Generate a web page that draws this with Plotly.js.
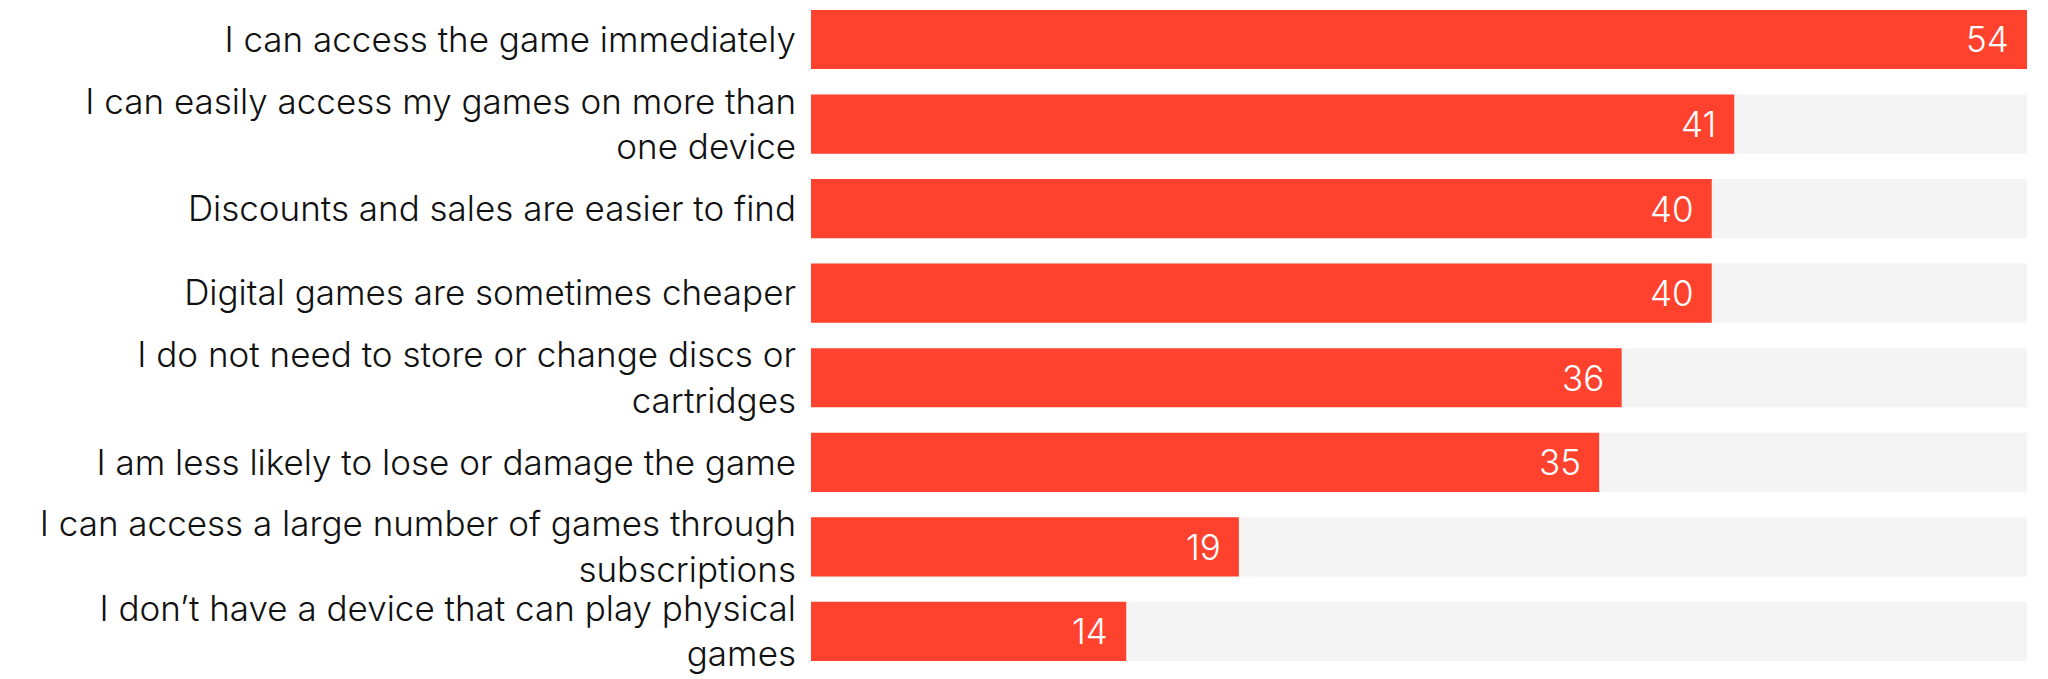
<!DOCTYPE html>
<html>
<head>
<meta charset="utf-8">
<script src="https://cdn.plot.ly/plotly-3.0.1.min.js"></script>
<style>
  html, body { margin: 0; padding: 0; background: #ffffff; }
  #chart { width: 2048px; height: 679px; }
</style>
</head>
<body>
<div id="chart"></div>
<script>
// Reasons for buying games digitally (%)
var categories = [
  'I can access the game immediately',
  'I can easily access my games on more than<br>one device',
  'Discounts and sales are easier to find',
  'Digital games are sometimes cheaper',
  'I do not need to store or change discs or<br>cartridges',
  'I am less likely to lose or damage the game',
  'I can access a large number of games through<br>subscriptions',
  'I don\u2019t have a device that can play physical<br>games'
];
var values = [54, 41, 40, 40, 36, 35, 19, 14];

var RED = '#ff422d';
var TRACK = '#f4f4f4';
var FONT = 'Inter, Open Sans, Arial, sans-serif';

var maxValue = Math.max.apply(null, values);
var track = values.map(function () { return maxValue; });

var trackTrace = {
  type: 'bar',
  orientation: 'h',
  y: categories,
  x: track,
  width: 0.7,
  marker: { color: TRACK },
  hoverinfo: 'skip',
  showlegend: false
};

var valueTrace = {
  type: 'bar',
  orientation: 'h',
  y: categories,
  x: values,
  width: 0.7,
  marker: { color: RED },
  showlegend: false
};

// value labels sit inside the end of each bar
var annotations = values.map(function (v, i) {
  return {
    x: v,
    y: categories[i],
    xref: 'x',
    yref: 'y',
    text: String(v),
    showarrow: false,
    xanchor: 'right',
    xshift: -16,
    font: { family: FONT, size: 35, color: '#ffffff', weight: 300 }
  };
});

var layout = {
  width: 2048,
  height: 679,
  paper_bgcolor: '#ffffff',
  plot_bgcolor: '#ffffff',
  barmode: 'overlay',
  margin: { l: 811, r: 21, t: 0, b: 0 },
  font: { family: FONT, color: '#111111', size: 35 },
  xaxis: {
    range: [0, maxValue],
    visible: false,
    fixedrange: true
  },
  yaxis: {
    type: 'category',
    range: [7.562, -0.467],
    showgrid: false,
    zeroline: false,
    showline: false,
    ticks: '',
    ticklabelstandoff: 14,
    automargin: false,
    tickfont: { family: FONT, size: 35, color: '#111111', weight: 300 }
  },
  annotations: annotations
};

Plotly.newPlot('chart', [trackTrace, valueTrace], layout, { displayModeBar: false, staticPlot: true });
</script>
</body>
</html>
